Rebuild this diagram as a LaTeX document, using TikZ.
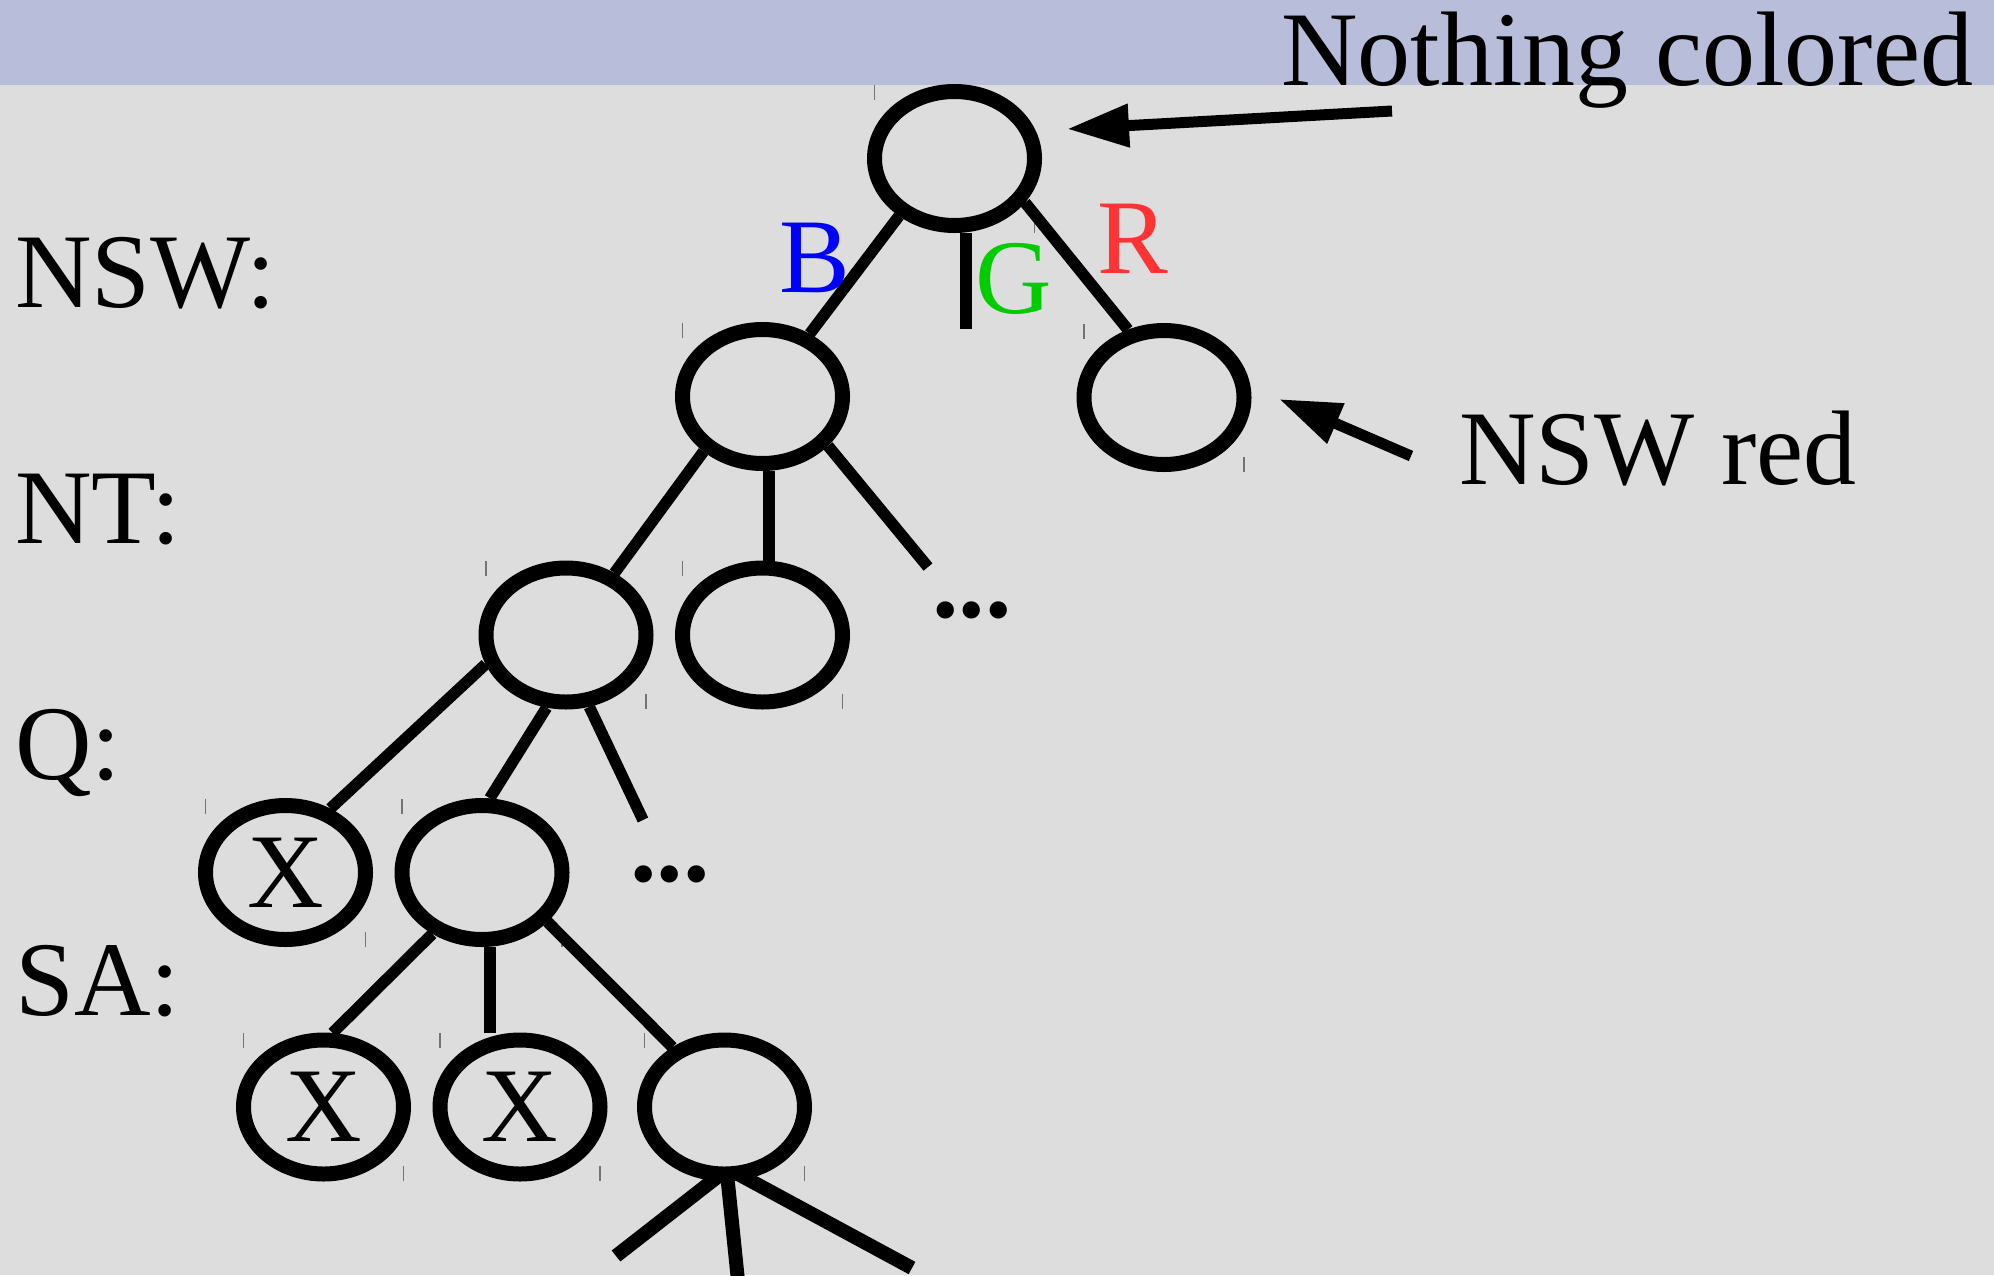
\documentclass[tikz,border=0pt]{standalone}
\usepackage{fontspec}
\setmainfont{Liberation Serif}
\usepackage{tikz}
\usetikzlibrary{positioning, arrows.meta, shapes.geometric}
\newcommand{\grande}{\fontsize{106}{127}\selectfont}
\definecolor{fondo}{HTML}{DDDDDD}
\definecolor{banda}{HTML}{B8BDD9}
\definecolor{azul}{HTML}{0000FF}
\definecolor{verde}{HTML}{00CC00}
\definecolor{rojo}{HTML}{FF3333}
\tikzset{estado/.style={draw, ellipse, line width=15pt, minimum width=160pt, minimum height=134pt, inner sep=0pt, font=\grande}}
\tikzset{rama/.style={line width=11.5pt}}
\tikzset{rama gruesa/.style={line width=14pt}}
\tikzset{flecha/.style={line width=11pt, -{Triangle[length=62pt, width=41pt]}}}
\tikzset{etiqueta/.style={anchor=base west, inner sep=0pt, font=\grande}}
\tikzset{selmark/.style={line width=1.5pt, draw=black!55}}

\begin{document}
\begin{tikzpicture}[
            x = 1pt, y = -1pt,
            on grid
        ]
            \useasboundingbox (0,0) rectangle (1994,1275);
            \clip (0,0) rectangle (1994,1275);
            \fill[fondo] (0,0) rectangle (1994,1275);
            \fill[banda] (0,0) rectangle (1994,85);

            % the search tree
            \node[estado] (root) at (954.5,158.5) {};
            \node[estado, below left=238pt and 192pt of root] (nB) {};
            \node[estado, below right=239pt and 209.5pt of root] (nR) {};
            \node[estado, below left=238.5pt and 196.5pt of nB] (q1) {};
            \node[estado, below=238.5pt of nB] (q2) {};
            \node[estado, below left=237.5pt and 280.5pt of q1] (sx) {X};
            \node[estado, below left=237.5pt and 84pt of q1] (s2) {};
            \node[estado, below left=234.5pt and 158.5pt of s2] (x1) {X};
            \node[estado, below right=234.5pt and 38pt of s2] (x2) {X};
            \node[estado, below right=234.5pt and 242.5pt of s2] (bot) {};

            \foreach \n in {root,nB,nR,q1,q2,sx,s2,x1,x2,bot}
                \draw[selmark] ([shift={(-80,-74)}]\n.center) -- ++(0,15)
                               ([shift={(80,59)}]\n.center) -- ++(0,15);

            \coordinate (gFin) at (966,329);
            \coordinate (ntPuntos) at (928,567);
            \coordinate (qPuntos) at (643,820);
            \coordinate (finA) at (616,1256);
            \coordinate (finB) at (741,1310);
            \coordinate (finC) at (912,1268);

            \draw[rama] (root.-134) to [] (nB.53);
            \draw[rama] (gFin |- root.south) to [] (gFin);
            \draw[rama] (root.-32) to [] (nR.118);
            \draw[rama] (nB.-137) to [] (q1.52);
            \draw[rama] (nB.-85) to [] (q2.85);
            \draw[rama] (nB.-37) to [] (ntPuntos);
            \draw[rama] (q1.-160) to [] (sx.55);
            \draw[rama] (q1.-105) to [] (s2.84);
            \draw[rama] (q1.-72) to [] (qPuntos);
            \draw[rama] (s2.-129) to [] (x1.83);
            \draw[rama] (s2.-84) to [] (s2.-84 |- x2.north);
            \draw[rama] (s2.-37) to [] (bot.131);
            \draw[rama gruesa] ([yshift=7pt]bot.-93) to [] (finA);
            \draw[rama gruesa] ([yshift=7pt]bot.-88) to [] (finB);
            \draw[rama gruesa] ([yshift=7pt]bot.-80) to [] (finC);

            % labels
            \node[etiqueta] (lNSW) at (15,307) {NSW:};
            \node[etiqueta] (lNT) at (15,543) {NT:};
            \node[etiqueta] (lQ) at (15,779) {Q:};
            \node[etiqueta] (lSA) at (15,1015) {SA:};
            \node[etiqueta, text=azul] (cB) at (779,292.5) {B};
            \node[etiqueta, text=verde] (cG) at (975,313) {G};
            \node[etiqueta, text=rojo] (cR) at (1097,273) {R};
            \node[etiqueta, font=\grande\bfseries] (ntMas) at (932,617) {...};
            \node[etiqueta, font=\grande\bfseries] (qMas) at (630,881) {...};
            \node[etiqueta] (nada) at (1281,85) {Nothing colored};
            \node[etiqueta] (rojoNSW) at (1459,484) {NSW red};

            \coordinate (colaNada) at (1392,111);
            \coordinate (puntaNada) at (1067,129);
            \coordinate (colaRojo) at (1411,456);
            \coordinate (puntaRojo) at (1279,399);
            \draw[flecha] (colaNada) to [] (puntaNada);
            \draw[flecha] (colaRojo) to [] (puntaRojo);
        \end{tikzpicture}
\end{document}
